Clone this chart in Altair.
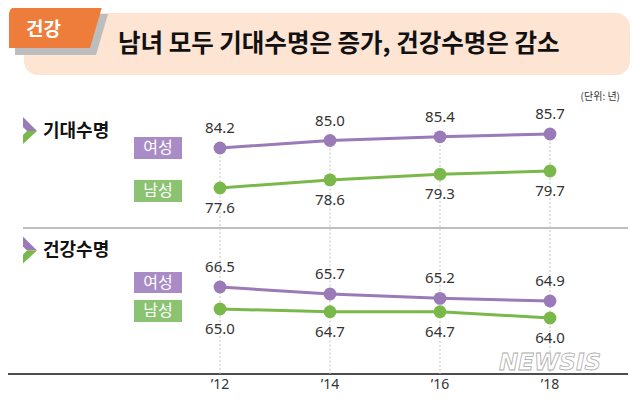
import altair as alt
import pandas as pd

# ---------------- data ----------------
years = [2012, 2014, 2016, 2018]
year_labels = ["\u201912", "\u201914", "\u201916", "\u201918"]
life_female = [84.2, 85.0, 85.4, 85.7]
life_male = [77.6, 78.6, 79.3, 79.7]
healthy_female = [66.5, 65.7, 65.2, 64.9]
healthy_male = [65.0, 64.7, 64.7, 64.0]

title_text = "남녀 모두 기대수명은 증가, 건강수명은 감소"
tab_text = "건강"
section_labels = ["기대수명", "건강수명"]
series_names = ["여성", "남성"]
unit_text = "(단위: 년)"
watermark = "NEWSIS"

# ---------------- style ----------------
W, H = 624, 386
KFONT = "Noto Sans CJK KR"
NFONT = "Noto Sans"
PURPLE = "#9a7ab7"
GREEN = "#7bb84c"
PILL_PURPLE = "#a98cc6"
PILL_GREEN = "#8cc372"
ORANGE = "#ee7d3b"
PEACH = "#fde4d3"
SHADOW = "#bdbdbd"
TEXT = "#333333"

X_DOMAIN = [2008.1455, 2019.4909]


def xenc():
    return alt.X("year:Q", scale=alt.Scale(domain=X_DOMAIN, nice=False, zero=False), axis=None)


def series_layer(values, domain, color, above, dotted=False):
    df = pd.DataFrame({"year": years, "value": values,
                       "label": [f"{v:.1f}" for v in values]})
    base = alt.Chart(df).encode(
        x=xenc(),
        y=alt.Y("value:Q", scale=alt.Scale(domain=domain, nice=False, zero=False), axis=None),
    )
    layers = []
    if dotted:
        layers.append(base.mark_rule(color="#c4c4c4", strokeDash=[2, 2], strokeWidth=1)
                      .encode(y2=alt.value(366)))
    layers.append(base.mark_line(color=color, strokeWidth=3))
    layers.append(base.mark_circle(color=color, size=165, opacity=1))
    layers.append(base.mark_text(dy=-20 if above else 20, fontSize=15, font=NFONT, color=TEXT)
                  .encode(text="label:N"))
    return alt.layer(*layers)


one = pd.DataFrame({"k": [0]})


def deco():
    return alt.Chart(one)


def rect(x, x2, y, y2, color, radius=0):
    return deco().mark_rect(color=color, cornerRadius=radius).encode(
        x=alt.value(x), x2=alt.value(x2), y=alt.value(y), y2=alt.value(y2))


def label(txt, x, y, size, color=TEXT, weight="normal", align="center", font=KFONT, **kw):
    return deco().mark_text(text=txt, fontSize=size, color=color, fontWeight=weight,
                            align=align, baseline="middle", font=font, **kw).encode(
        x=alt.value(x), y=alt.value(y))


def shape(path, x, y, size, color):
    return deco().mark_point(shape=path, filled=True, color=color, size=size,
                             opacity=1, strokeWidth=0).encode(x=alt.value(x), y=alt.value(y))


TAB_PATH = "M-0.93,-0.25 Q-0.93,-0.41 -0.77,-0.41 L0.93,-0.41 L0.69,0.41 L-0.93,0.41 Z"
ICON_TOP = "M-0.7,-1.35 L0.7,0.05 L-0.3,0.05 L-0.7,-0.35 Z"
ICON_BOT = "M-0.7,1.35 L0.7,0.05 L-0.3,0.05 L-0.7,0.45 Z"

decor = [
    rect(16, 622, 5, 67, PEACH, radius=14),
    shape(TAB_PATH, 53.5, 26.5, 10000, SHADOW),
    shape(TAB_PATH, 47.5, 19.5, 10000, ORANGE),
    label(tab_text, 35.5, 22, 19, color="white", weight="bold"),
    label(title_text, 110, 37, 24.5, color="#111111", weight="bold", align="left"),
    label(unit_text, 612, 89, 10, align="right"),
    # section headers
    shape(ICON_TOP, 22, 122.5, 400, PURPLE),
    shape(ICON_BOT, 22, 122.5, 400, GREEN),
    label(section_labels[0], 35, 124, 18, color="#111111", weight="bold", align="left"),
    shape(ICON_TOP, 22, 242, 400, PURPLE),
    shape(ICON_BOT, 22, 242, 400, GREEN),
    label(section_labels[1], 35, 243, 18, color="#111111", weight="bold", align="left"),
    # pills
    rect(126, 174, 129, 151, PILL_PURPLE),
    label(series_names[0], 150, 140, 16, color="white"),
    rect(126, 174, 172, 194, PILL_GREEN),
    label(series_names[1], 150, 183, 16, color="white"),
    rect(126, 174, 264, 285, PILL_PURPLE),
    label(series_names[0], 150, 274.5, 16, color="white"),
    rect(126, 174, 292, 314, PILL_GREEN),
    label(series_names[1], 150, 303, 16, color="white"),
    # separator and axis line
    deco().mark_rule(color="#a8a8a8", strokeWidth=1.5).encode(
        x=alt.value(15), x2=alt.value(620), y=alt.value(220)),
    deco().mark_rule(color="#4d4d4d", strokeWidth=2).encode(
        x=alt.value(0), x2=alt.value(620), y=alt.value(366)),
]

year_df = pd.DataFrame({"year": years, "label": year_labels})
year_text = alt.Chart(year_df).mark_text(fontSize=14, font=NFONT, color=TEXT, baseline="middle").encode(
    x=xenc(), y=alt.value(377), text="label:N")

series = [
    series_layer(life_female, [57.843, 99.2], PURPLE, True, dotted=True),
    series_layer(life_male, [52.153, 99.835], GREEN, False),
    series_layer(healthy_female, [54.271, 98.386], PURPLE, True),
    series_layer(healthy_male, [55.556, 98.444], GREEN, False),
]

wm = [
    label(watermark, 542, 355, 23, color="white", weight="bold", font="DejaVu Sans",
          fontStyle="italic", opacity=0.95, stroke="#a8a8a8", strokeWidth=0.8),
]

chart = alt.layer(*decor, *series, year_text, *wm).resolve_scale(y="independent").properties(
    width=W, height=H, autosize=alt.AutoSizeParams(type="none"), padding=0,
    background="white",
).configure_view(stroke=None)

chart.save("out.html", embed_options={"renderer": "svg", "actions": False})
